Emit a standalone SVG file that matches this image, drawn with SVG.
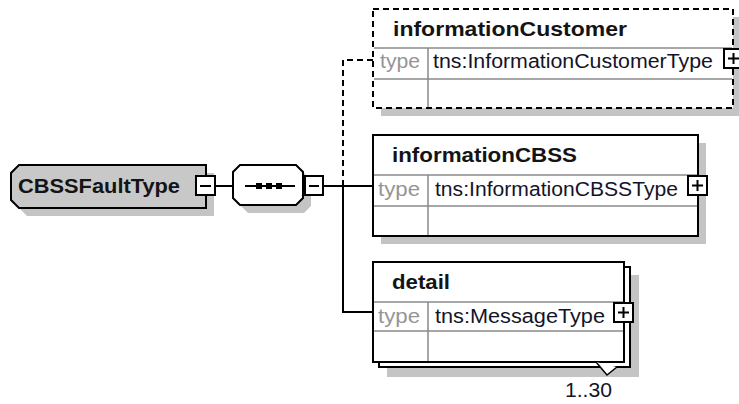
<svg xmlns="http://www.w3.org/2000/svg" width="739" height="404" viewBox="0 0 739 404">
<defs>
<style>
.box{fill:#fff;stroke:#000;stroke-width:2}
.dbox{fill:#fff;stroke:#000;stroke-width:2;stroke-dasharray:6 4}
.shadow{fill:#c4c4c4}
.sep{stroke:#8a8a8a;stroke-width:1.5;fill:none}
.hdr{font-family:"Liberation Sans",Arial,sans-serif;font-weight:bold;font-size:21px;fill:#141414}
.lbl{font-family:"Liberation Sans",Arial,sans-serif;font-size:20px;fill:#959595}
.typ{font-family:"Liberation Sans",Arial,sans-serif;font-size:20px;fill:#141428}
.btn{fill:#fff;stroke:#000;stroke-width:2}
.sym{stroke:#000;stroke-width:2;fill:none}
.conn{fill:none;stroke:#000;stroke-width:2}
.dash{stroke-dasharray:6 4}
</style>
</defs>
<rect width="739" height="404" fill="#fff"/>

<g id="connectors">
<path class="conn" d="M216 186 H233"/>
<path class="conn" d="M324 186 H373 M343 186 V312 H373"/>
<path class="conn dash" d="M343 186 V60 H373"/>
</g>

<g id="node-CBSSFaultType">
<path class="shadow" d="M27 173 H214 V216 H27 L19 208 V181 Z"/>
<path d="M19 165 H206 V208 H19 L11 200 V173 Z" fill="#c8c8c8" stroke="#000" stroke-width="2"/>
<text class="hdr" x="18" y="193" textLength="162" lengthAdjust="spacingAndGlyphs">CBSSFaultType</text>
<rect class="btn" x="196" y="176" width="19" height="19"/>
<path class="sym" d="M200 186 H211"/>
</g>

<g id="node-sequence">
<polygon class="shadow" points="248,173 304,173 311,180 311,206 304,213 248,213 241,206 241,180"/>
<polygon points="240,165 296,165 303,172 303,198 296,205 240,205 233,198 233,172" fill="#fff" stroke="#000" stroke-width="2"/>
<path class="sym" d="M245 186 H295"/>
<rect x="256" y="183" width="6" height="6" fill="#000"/>
<rect x="266" y="183" width="6" height="6" fill="#000"/>
<rect x="276" y="183" width="6" height="6" fill="#000"/>
<rect class="btn" x="305" y="176" width="18" height="19"/>
<path class="sym" d="M309 186 H319"/>
</g>

<g id="node-informationCustomer">
<rect class="shadow" x="381" y="17" width="360" height="99"/>
<rect class="dbox" x="373" y="9" width="360" height="99"/>
<path class="sep" d="M374 48 H732 M374 79 H732 M428 48 V107"/>
<text class="hdr" x="393" y="36" textLength="234" lengthAdjust="spacingAndGlyphs">informationCustomer</text>
<text class="lbl" x="380" y="68" textLength="40" lengthAdjust="spacingAndGlyphs">type</text>
<text class="typ" x="433" y="68" textLength="280" lengthAdjust="spacingAndGlyphs">tns:InformationCustomerType</text>
<rect class="btn" x="724" y="49" width="19" height="19"/>
<path class="sym" d="M728 58.5 H739 M733.5 53 V64"/>
</g>

<g id="node-informationCBSS">
<rect class="shadow" x="381" y="143" width="325" height="101"/>
<rect class="box" x="373" y="135" width="325" height="101"/>
<path class="sep" d="M374 175 H697 M374 206 H697 M428 175 V235"/>
<text class="hdr" x="392" y="162" textLength="185" lengthAdjust="spacingAndGlyphs">informationCBSS</text>
<text class="lbl" x="378" y="196" textLength="42" lengthAdjust="spacingAndGlyphs">type</text>
<text class="typ" x="435" y="196" textLength="243" lengthAdjust="spacingAndGlyphs">tns:InformationCBSSType</text>
<rect class="btn" x="688" y="176" width="19" height="19"/>
<path class="sym" d="M692 185.5 H703 M697.5 180 V191"/>
</g>

<g id="node-detail">
<rect class="shadow" x="387" y="275" width="252" height="102"/>
<rect class="box" x="379" y="267" width="251" height="100"/>
<rect class="box" x="373" y="262" width="251" height="100"/>
<path class="sep" d="M374 302 H623 M374 331 H623 M428 302 V361"/>
<text class="hdr" x="392" y="289" textLength="58" lengthAdjust="spacingAndGlyphs">detail</text>
<text class="lbl" x="378" y="323" textLength="42" lengthAdjust="spacingAndGlyphs">type</text>
<text class="typ" x="435" y="323" textLength="170" lengthAdjust="spacingAndGlyphs">tns:MessageType</text>
<rect class="btn" x="614" y="303" width="19" height="19"/>
<path class="sym" d="M618 312.5 H629 M623.5 307 V318"/>
<path d="M596 362 L607 375 L617 367" fill="#fff" stroke="#000" stroke-width="1.5"/>
<text class="typ" x="565" y="397" font-size="21" textLength="47" lengthAdjust="spacingAndGlyphs" fill="#23235a">1..30</text>
</g>
</svg>
